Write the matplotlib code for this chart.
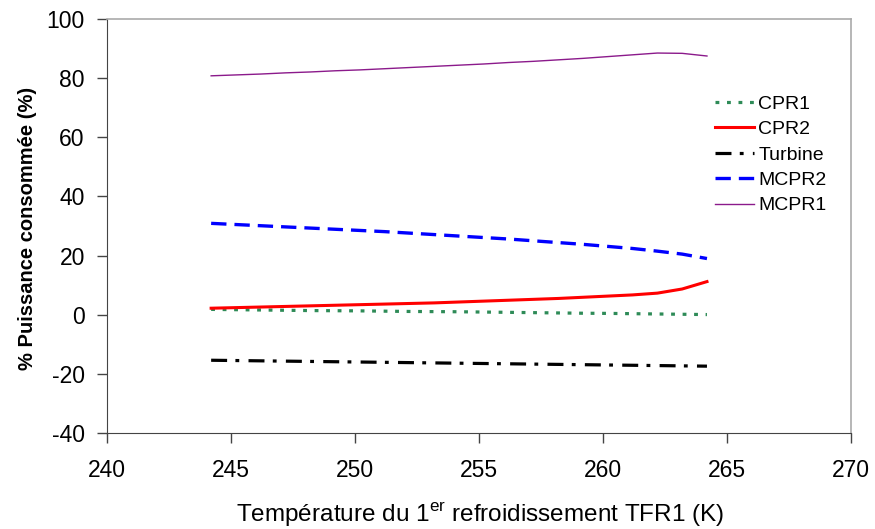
import matplotlib
matplotlib.use("Agg")
import matplotlib.pyplot as plt

plt.rcParams['font.family'] = ['Liberation Sans', 'DejaVu Sans']
plt.rcParams['mathtext.fontset'] = 'custom'
plt.rcParams['mathtext.rm'] = 'Liberation Sans'
plt.rcParams['axes.unicode_minus'] = False

# temperature TFR1 (K)
temp = [244.2, 245.2, 246.2, 247.2, 248.2, 249.2, 250.2, 251.2, 252.2, 253.2, 254.2,
        255.2, 256.2, 257.2, 258.2, 259.2, 260.2, 261.2, 262.2, 263.2, 264.2]

# % puissance consommee
cpr1 = [1.8, 1.7, 1.6, 1.5, 1.4, 1.35, 1.3, 1.2, 1.1, 1.05, 1.0,
        0.9, 0.8, 0.7, 0.6, 0.5, 0.45, 0.35, 0.25, 0.15, 0.05]
cpr2 = [2.2, 2.4, 2.6, 2.8, 3.0, 3.2, 3.4, 3.6, 3.8, 4.0, 4.3,
        4.6, 4.9, 5.2, 5.5, 5.9, 6.3, 6.7, 7.3, 8.7, 11.2]
turbine = [-15.4, -15.5, -15.6, -15.7, -15.8, -15.9, -16.0, -16.1, -16.2, -16.3, -16.4,
           -16.5, -16.6, -16.7, -16.8, -16.9, -17.0, -17.1, -17.2, -17.3, -17.4]
mcpr2 = [30.9, 30.5, 30.1, 29.7, 29.3, 28.9, 28.5, 28.1, 27.6, 27.1, 26.6,
         26.1, 25.6, 25.0, 24.4, 23.8, 23.1, 22.4, 21.5, 20.5, 19.0]
mcpr1 = [80.8, 81.1, 81.4, 81.8, 82.1, 82.5, 82.8, 83.2, 83.6, 84.0, 84.4,
         84.8, 85.3, 85.7, 86.2, 86.7, 87.3, 87.9, 88.5, 88.4, 87.5]

xticks = [240, 245, 250, 255, 260, 265, 270]
yticks = [-40, -20, 0, 20, 40, 60, 80, 100]

fig = plt.figure(figsize=(8.75, 5.29), dpi=100)
ax = fig.add_axes([0.1223, 0.1815, 0.850, 0.7825])

ax.plot(temp, cpr1, color='#2e8b57', lw=2.3, dashes=(1.2, 2.4), label='CPR1')
ax.plot(temp, cpr2, color='#ff0000', lw=2.2, label='CPR2')
ax.plot(temp, turbine, color='black', lw=2.3, dashes=(5.0, 2.6, 1.2, 2.9), label='Turbine')
ax.plot(temp, mcpr2, color='#0000ff', lw=2.4, dashes=(4.6, 2.4), label='MCPR2')
ax.plot(temp, mcpr1, color='#8b1a8b', lw=1.0, label='MCPR1')

ax.set_xlim(240, 270)
ax.set_ylim(-40, 100)
ax.set_xticks(xticks)
ax.set_yticks(yticks)
ax.tick_params(axis='both', labelsize=16.5, direction='out', length=7, width=1,
               colors='#444444', labelcolor='black')
ax.tick_params(axis='x', pad=12)
ax.tick_params(axis='y', pad=9)

for s in ['left', 'bottom']:
    ax.spines[s].set_color('#444444')
for s in ['top', 'right']:
    ax.spines[s].set_color('#aaaaaa')
    ax.spines[s].set_linewidth(1.2)

ax.set_xlabel('Température du 1$^{\\mathrm{er}}$ refroidissement TFR1 (K)', fontsize=17.5)
ax.xaxis.set_label_coords(0.501, -0.164)
ax.set_ylabel('% Puissance consommée (%)', fontsize=14.5, fontweight='bold')
ax.yaxis.set_label_coords(-0.094, 0.494)

ax.legend(loc='upper left', bbox_to_anchor=(0.817, 0.816), frameon=False, fontsize=14,
          handlelength=2.0, handletextpad=0.25, labelspacing=0.4, borderaxespad=0,
          borderpad=0)

fig.savefig('out.png', dpi=100)
